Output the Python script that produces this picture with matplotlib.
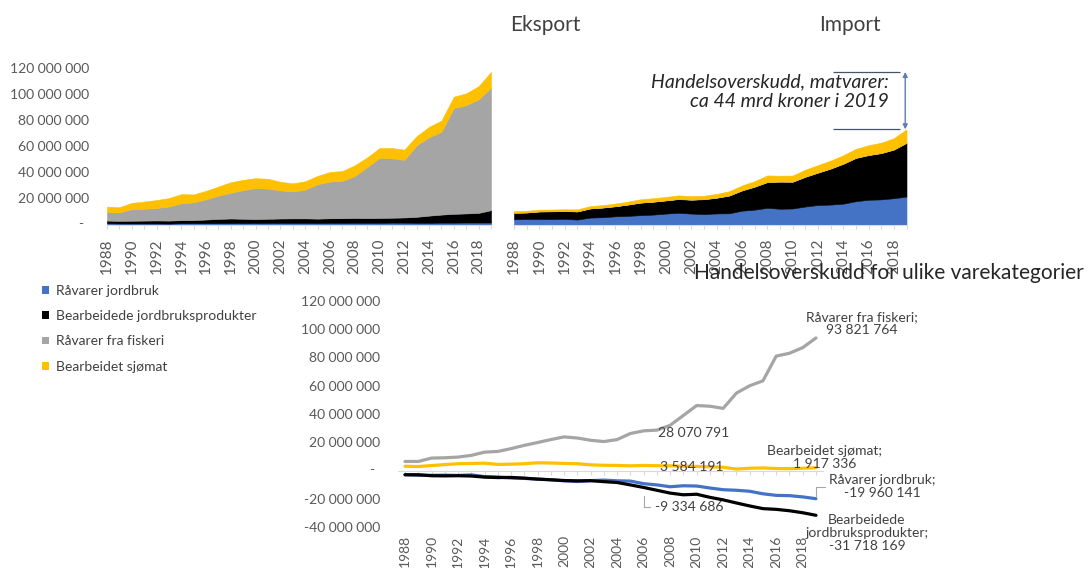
import numpy as np
import matplotlib
matplotlib.use("Agg")
import matplotlib.pyplot as plt
from matplotlib.patches import Patch
from matplotlib.ticker import FuncFormatter

plt.rcParams["font.family"] = ["Lato", "DejaVu Sans"]

# ---------------------------------------------------------------------------
# Data (values in million, unit 1000 NOK)
# ---------------------------------------------------------------------------
years = list(range(1988, 2020))

categories = ["Råvarer jordbruk", "Bearbeidede jordbruksprodukter",
              "Råvarer fra fiskeri", "Bearbeidet sjømat"]
cat_colors = ["#4472C4", "#000000", "#A5A5A5", "#FFC000"]

export_ravarer_jordbruk = [1.0, 0.8, 0.8, 0.8, 0.8, 0.7, 1.0, 1.0, 1.0, 1.0,
                           1.1, 1.1, 1.1, 1.2, 1.2, 1.2, 1.2, 1.1, 1.265314, 1.2,
                           1.3, 1.3, 1.3, 1.4, 1.4, 1.3, 1.3, 1.4, 1.4, 1.5,
                           1.5, 1.499859]
import_ravarer_jordbruk = [4.0, 4.2, 4.2, 4.1, 4.3, 3.8, 5.3, 5.6, 6.3, 6.6,
                           7.2, 7.6, 8.4, 9.0, 8.4, 8.0, 8.5, 8.6, 10.6, 11.4,
                           12.8, 12.1, 12.3, 13.8, 15.0, 15.3, 16.0, 17.9, 19.0, 19.3,
                           20.2, 21.46]

export_bearbeidet_jordbruk = [2.0, 2.0, 2.1, 2.2, 2.3, 2.3, 2.3, 2.4, 2.8, 3.3,
                              3.5, 3.3, 3.0, 3.2, 3.4, 3.5, 3.5, 3.4, 3.5, 3.6,
                              3.7, 3.6, 3.7, 3.8, 4.0, 4.6, 5.5, 6.2, 6.8, 7.0,
                              7.4, 9.5]
import_bearbeidet_jordbruk = [5.0, 5.0, 5.8, 6.0, 6.0, 6.2, 7.0, 7.4, 7.7, 8.7,
                              9.6, 9.9, 10.1, 10.5, 10.6, 11.4, 12.0, 13.6, 15.5, 17.6,
                              19.7, 20.8, 20.5, 22.8, 24.8, 27.6, 30.6, 33.2, 34.3, 35.5,
                              37.3, 41.218169]

export_fiskeri = [6.5, 6.5, 8.9, 9.1, 9.6, 10.8, 13.1, 13.6, 15.6, 17.9,
                  19.9, 22.0, 23.9, 23.2, 21.6, 20.7, 22.1, 26.4, 28.270791, 28.8,
                  32.2, 39.2, 46.2, 45.7, 44.2, 55.0, 60.2, 63.7, 81.2, 83.2,
                  87.2, 94.071764]
import_fiskeri = [0.1, 0.1, 0.1, 0.1, 0.1, 0.1, 0.1, 0.1, 0.1, 0.1,
                  0.1, 0.1, 0.1, 0.2, 0.2, 0.2, 0.2, 0.2, 0.2, 0.2,
                  0.2, 0.2, 0.2, 0.2, 0.2, 0.2, 0.2, 0.2, 0.2, 0.2,
                  0.2, 0.25]

export_sjomat = [4.2, 4.0, 4.8, 5.5, 6.1, 6.5, 6.9, 6.1, 6.5, 7.0,
                 8.0, 7.9, 7.6, 7.5, 6.6, 6.2, 6.4, 6.5, 7.284191, 7.5,
                 8.3, 7.4, 7.5, 7.9, 7.9, 7.0, 8.0, 8.6, 8.8, 9.1,
                 10.2, 12.117336]
import_sjomat = [1.2, 1.2, 1.3, 1.3, 1.3, 1.5, 1.7, 1.8, 2.0, 2.2,
                 2.5, 2.6, 2.6, 2.7, 2.6, 2.5, 2.8, 3.2, 3.7, 4.1,
                 5.0, 4.4, 4.6, 5.3, 5.6, 6.0, 6.4, 6.8, 7.4, 7.8,
                 8.6, 10.2]

top_ticks = [0, 20e6, 40e6, 60e6, 80e6, 100e6, 120e6]
net_ticks = [-40e6, -20e6, 0, 20e6, 40e6, 60e6, 80e6, 100e6, 120e6]
label_year = 2006

MILL = 1_000_000
exports = [np.array(s) * MILL for s in (export_ravarer_jordbruk, export_bearbeidet_jordbruk,
                                        export_fiskeri, export_sjomat)]
imports = [np.array(s) * MILL for s in (import_ravarer_jordbruk, import_bearbeidet_jordbruk,
                                        import_fiskeri, import_sjomat)]
nets = [np.round(e - i) for e, i in zip(exports, imports)]

# ---------------------------------------------------------------------------
# Figure and axes
# ---------------------------------------------------------------------------
W, H = 1091, 568
PT = 0.72  # pixels -> points at 100 dpi
fig = plt.figure(figsize=(W / 100, H / 100), dpi=100)


def add_axes_px(left, right, top, bottom):
    return fig.add_axes([left / W, 1 - bottom / H, (right - left) / W, (bottom - top) / H])


ax_exp = add_axes_px(107, 491, 68.3, 224.5)
ax_imp = add_axes_px(514, 906.5, 68.3, 224.5)
ax_net = add_axes_px(398.4, 822.6, 301, 527)

TICK_GREY = "#595959"
AXIS_GREY = "#D9D9D9"
TEXT_DARK = "#404040"


def space_thousands(v):
    return f"{v:,.0f}".replace(",", " ")


def y_formatter(v, pos):
    return "" if v == 0 else space_thousands(v)


def zero_dash(ax, dx_px):
    ax.annotate("-", xy=(0, 0), xycoords=ax.get_yaxis_transform(),
                xytext=(dx_px * PT, 0), textcoords="offset points",
                ha="center", va="center", fontsize=10, color=TICK_GREY)


def year_labels():
    return [str(y) if y % 2 == 0 else "" for y in years]


for ax in (ax_exp, ax_imp, ax_net):
    for side in ("top", "right", "left", "bottom"):
        ax.spines[side].set_visible(False)

# Export / import stacked areas
for ax, series in ((ax_exp, exports), (ax_imp, imports)):
    polys = ax.stackplot(years, *series, colors=cat_colors, linewidth=0.4)
    for p, c in zip(polys, cat_colors):
        p.set_edgecolor(c)
    ax.set_xlim(1988, 2019)
    ax.set_ylim(0, 120e6)
    ax.spines["bottom"].set_visible(True)
    ax.spines["bottom"].set_color(AXIS_GREY)
    ax.set_xticks(years)
    ax.set_xticklabels(year_labels(), rotation=90, fontsize=11, color=TICK_GREY)
    ax.tick_params(axis="x", length=3, color=AXIS_GREY, pad=7)

ax_exp.set_yticks(top_ticks)
ax_exp.yaxis.set_major_formatter(FuncFormatter(y_formatter))
ax_exp.tick_params(axis="y", length=0, pad=13, labelsize=10, labelcolor=TICK_GREY)
zero_dash(ax_exp, -26)
ax_imp.set_yticks([])

# Net trade balance lines
for vals, c in zip(nets, cat_colors):
    ax_net.plot(years, vals, color=c, lw=2.3, solid_capstyle="round", solid_joinstyle="round")
ax_net.set_xlim(1987.5, 2019.5)
ax_net.set_ylim(-40e6, 120e6)
ax_net.set_yticks(net_ticks)
ax_net.yaxis.set_major_formatter(FuncFormatter(y_formatter))
ax_net.tick_params(axis="y", length=0, pad=13, labelsize=10, labelcolor=TICK_GREY)
zero_dash(ax_net, -27)
ax_net.set_xticks(years)
ax_net.set_xticklabels(year_labels(), rotation=90, fontsize=10, color=TICK_GREY)
ax_net.tick_params(axis="x", length=0, pad=6)

ymin, ymax = ax_net.get_ylim()
zero_axis = ax_net.secondary_xaxis((0 - ymin) / (ymax - ymin))
zero_axis.set_xticks(years)
zero_axis.set_xticklabels([""] * len(years))
zero_axis.tick_params(length=3, color=AXIS_GREY)
zero_axis.spines["bottom"].set_color(AXIS_GREY)

# Data labels
LABEL_GREY = "#404040"
net_rj, net_bj, net_fisk, net_sjo = nets
i_lab = years.index(label_year)
last = years[-1]


def data_label(text, x, y, dx, dy, ha="center", leader=None):
    kw = {}
    if leader is not None:
        kw["arrowprops"] = dict(arrowstyle="-", color="#A6A6A6", lw=0.8,
                                connectionstyle="angle,angleA=0,angleB=90",
                                relpos=(0, 0.5), shrinkA=1, shrinkB=leader)
    ax_net.annotate(text, xy=(x, y), xytext=(dx * PT, dy * PT), textcoords="offset points",
                    ha=ha, va="center", multialignment="center", fontsize=10,
                    color=LABEL_GREY, linespacing=1.1, zorder=5, **kw)


data_label(f"{categories[2]};\n{space_thousands(net_fisk[-1])}", last, net_fisk[-1], 46, 14)
data_label(f"{categories[3]};\n{space_thousands(net_sjo[-1])}", last, net_sjo[-1], 9, 10.5)
data_label(f"{categories[0]};\n{space_thousands(net_rj[-1])}", last, net_rj[-1], 66, 12, leader=1)
data_label("Bearbeidede\njordbruksprodukter;\n" + space_thousands(net_bj[-1]),
           last, net_bj[-1], 51, -17.5)
data_label(space_thousands(net_fisk[i_lab]), label_year, net_fisk[i_lab], 14, -2, ha="left")
data_label(space_thousands(net_sjo[i_lab]), label_year, net_sjo[i_lab], 16, -1.5, ha="left")
data_label(space_thousands(net_rj[i_lab]), label_year, net_rj[i_lab], 11, -23, ha="left", leader=9)

# Trade surplus marker on the import chart
exp_total = sum(s[-1] for s in exports)
imp_total = sum(s[-1] for s in imports)
ax_imp.hlines([exp_total, imp_total], 2013.2, 2018.5, color="#44546A", lw=0.9, clip_on=False)
ax_imp.annotate("", xy=(2018.9, imp_total), xytext=(2018.9, exp_total),
                arrowprops=dict(arrowstyle="<|-|>", color="#5B7DB8", lw=1.0,
                                mutation_scale=7, shrinkA=0, shrinkB=0))
surplus_mrd = round((exp_total - imp_total) / MILL)
fig.text(889 / W, 1 - 92 / H,
         f"Handelsoverskudd, matvarer:\nca {surplus_mrd} mrd kroner i 2019",
         ha="right", va="center", multialignment="right", fontsize=14,
         style="italic", color="#262626", linespacing=1.2)

# Titles
fig.text(545 / W, 1 - 25 / H, "Eksport", ha="center", va="center", fontsize=15, color=TEXT_DARK)
fig.text(850 / W, 1 - 25 / H, "Import", ha="center", va="center", fontsize=15, color=TEXT_DARK)
fig.text(889 / W, 1 - 273 / H, "Handelsoverskudd for ulike varekategorier",
         ha="center", va="center", fontsize=15, color="#262626")

# Legend
handles = [Patch(facecolor=c, edgecolor="none", label=l) for c, l in zip(cat_colors, categories)]
fig.legend(handles=handles, loc="upper left", bbox_to_anchor=(42 / W, 1 - 285 / H),
           frameon=False, fontsize=10, handlelength=0.5, handleheight=0.5,
           handletextpad=0.5, labelspacing=0.95, borderpad=0, borderaxespad=0,
           labelcolor=TEXT_DARK)

fig.savefig("out.png", dpi=100, facecolor="white")
